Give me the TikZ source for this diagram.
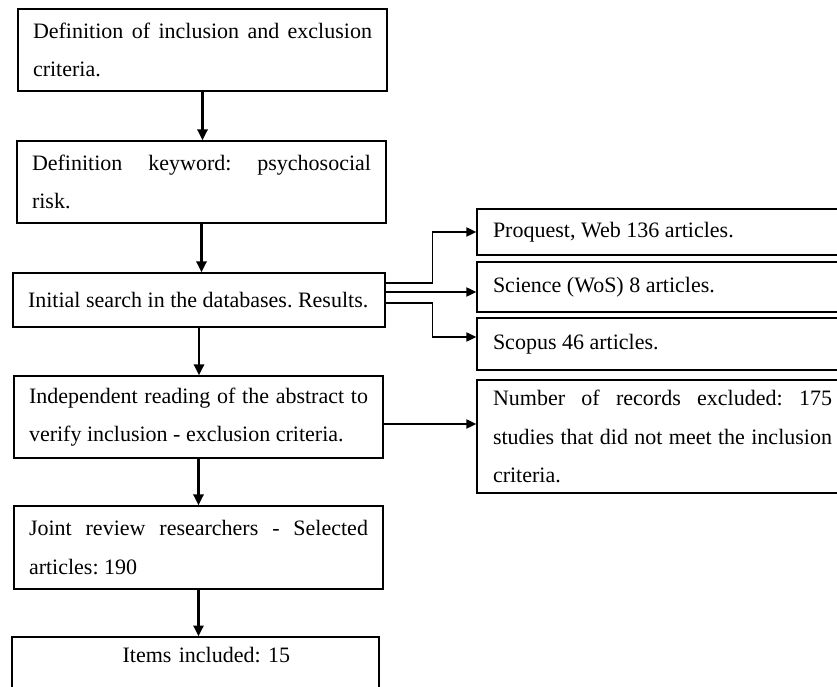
\documentclass[tikz,border=0pt]{standalone}
\usepackage{fontspec}
\setmainfont{Liberation Serif}
\usetikzlibrary{arrows.meta,positioning,calc}
\tikzset{%
  stage/.style={draw,line width=0.8pt,align=justify,text width=203.4pt,inner xsep=9pt,inner ysep=0pt,
    font=\fontsize{13.2}{23}\selectfont,
    execute at begin node={\fontdimen4\font=0pt\frenchspacing\tolerance=9999\hyphenpenalty=10000}},
  source/.style={stage,inner xsep=9.6pt},
  flow/.style={-{Triangle[length=6.5pt,width=6pt]},line width=1.5pt},
  link/.style={-{Triangle[length=6pt,width=5.5pt]},line width=0.9pt},
}

\begin{document}
\begin{tikzpicture}[x=0.6pt,y=-0.6pt]
  \useasboundingbox (0,0) rectangle (837,687);
  \clip (0,0) rectangle (837,687);
  % main steps
  \node[stage,minimum height=49.2pt] (c) at (202.5,50) {Definition of inclusion and exclusion criteria.};
  \node[stage,minimum height=49.2pt] (k) at (201.5,182) {Definition keyword: psychosocial risk.};
  \node[stage,text width=205.2pt,minimum height=32.4pt] (s) at (199,300) {Initial search in the databases. Results.};
  \node[stage,minimum height=49.2pt] (r) at (198.5,417) {Independent reading of the abstract to verify inclusion - exclusion criteria.};
  \node[stage,minimum height=49.8pt] (j) at (198.5,547.5) {Joint review researchers - Selected articles: 190};
  \node[stage,align=center,text width=202.2pt,text height=8.5pt,text depth=26.7pt,inner ysep=7pt] (i) at (195.5,678) {\hspace*{13pt}Items included: 15};
  % databases and exclusions
  \node[source,minimum height=27.6pt] (p) at (662.5,232) {Proquest, Web 136 articles.};
  \node[source,minimum height=30pt] (w) at (662.5,287) {Science (WoS) 8 articles.};
  \node[source,minimum height=31.2pt] (sc) at (662.5,344) {Scopus 46 articles.};
  \node[source,minimum height=67.8pt] (x) at (662.5,436.5) {Number of records excluded: 175 studies that did not meet the inclusion criteria.};
  % arrows
  \foreach \a/\b in {c/k,k/s,s/r,r/j,j/i}
    \draw[flow] (\a.south) -- (\a.south |- \b.north);
  \draw[link] ([yshift=10.2pt]s.east) -- ++(28.2pt,0) |- (p.west);
  \draw[link] ([yshift=4.8pt]s.east) -- ([yshift=4.8pt]s.east -| w.west);
  \draw[link] ([yshift=-1.8pt]s.east) -- ++(28.2pt,0) |- ([yshift=4.2pt]sc.west);
  \draw[link] ([yshift=-4.2pt]r.east) -- ([yshift=-4.2pt]r.east -| x.west);
\end{tikzpicture}
\end{document}
